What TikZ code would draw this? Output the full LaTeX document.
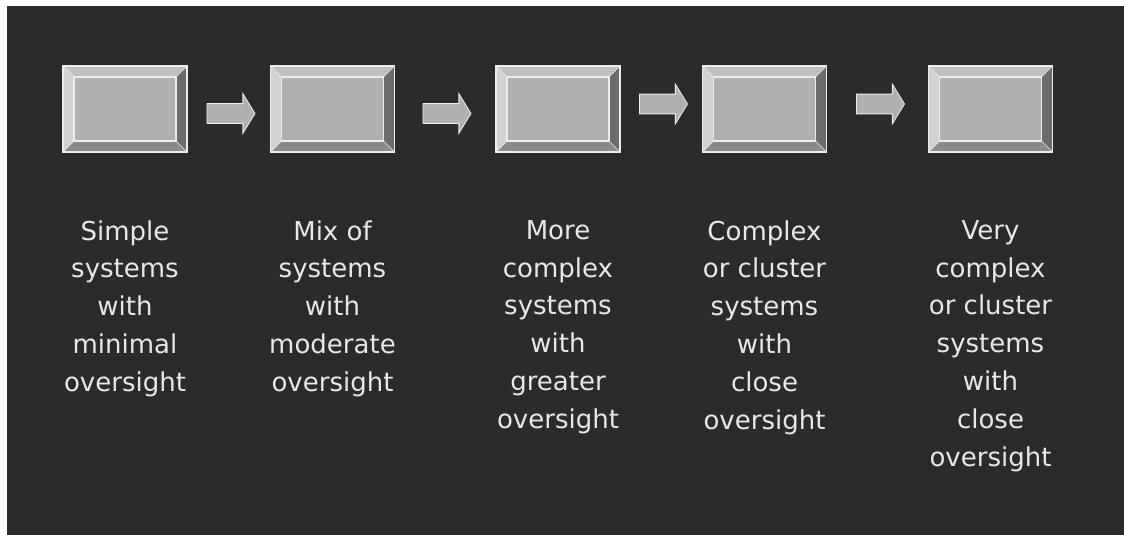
\documentclass[tikz,border=0pt]{standalone}
\usepackage{fontspec}
\setmainfont{DejaVu Sans}
\usetikzlibrary{calc,positioning,shapes.arrows}
\definecolor{bgdark}{HTML}{2B2B2B}
\definecolor{bvtop}{HTML}{C0C0C0}
\definecolor{bvleft}{HTML}{D2D2D2}
\definecolor{bvright}{HTML}{6B6B6B}
\definecolor{bvbottom}{HTML}{8A8A8A}
\definecolor{bvface}{HTML}{B0B0B0}
\definecolor{bvedge}{HTML}{EDEDED}
\definecolor{labelgray}{HTML}{E8E8E8}
\newcommand{\bw}{8.25pt}
\newcommand{\bevel}[1]{
  \fill[bvtop] (#1.north west) -- (#1.north east) -- ($(#1.north east)+(-\bw,-\bw)$) -- ($(#1.north west)+(\bw,-\bw)$) -- cycle;
  \fill[bvbottom] (#1.south west) -- (#1.south east) -- ($(#1.south east)+(-\bw,\bw)$) -- ($(#1.south west)+(\bw,\bw)$) -- cycle;
  \fill[bvleft] (#1.north west) -- (#1.south west) -- ($(#1.south west)+(\bw,\bw)$) -- ($(#1.north west)+(\bw,-\bw)$) -- cycle;
  \fill[bvright] (#1.north east) -- (#1.south east) -- ($(#1.south east)+(-\bw,\bw)$) -- ($(#1.north east)+(-\bw,-\bw)$) -- cycle;
  \draw[bvedge,line width=0.4pt] (#1.north west) -- ++(\bw,-\bw) (#1.north east) -- ++(-\bw,-\bw)
    (#1.south west) -- ++(\bw,\bw) (#1.south east) -- ++(-\bw,\bw);
  \draw[bvedge,line width=0.9pt] ($(#1.north west)+(\bw,-\bw)$) rectangle ($(#1.south east)+(-\bw,\bw)$);
  \draw[bvedge,line width=0.9pt] (#1.north west) rectangle (#1.south east);
}

\begin{document}
\begin{tikzpicture}[x=0.75pt,y=-0.75pt]
\tikzstyle{stage}=[fill=bvface,minimum width=93pt,minimum height=64.5pt,inner sep=0pt,outer sep=0pt]
\tikzstyle{step arrow}=[single arrow,fill=bvface,draw=bvedge,line width=0.6pt,inner xsep=0pt,inner ysep=7.1pt,
  single arrow head extend=7.5pt,single arrow tip angle=117,minimum height=36pt]
\tikzstyle{caption}=[text=labelgray,align=center,anchor=north,inner sep=0pt,
  font=\fontsize{19.5}{28.4}\selectfont,below=51pt of #1]
% background
\fill[white] (0,0) rectangle (1124,535);
\fill[bgdark] (7,6) rectangle (1124,535);
\useasboundingbox (0,0) rectangle (1124,535);

\node[stage] (b1) at (125,109) {};
\node[stage] (b2) at (332.5,109) {};
\node[stage] (b3) at (558,109) {};
\node[stage] (b4) at (764.5,109) {};
\node[stage] (b5) at (990.5,109) {};
\foreach \i in {1,...,5} {\bevel{b\i}}

\node[step arrow] (a12) at (228,113.5) {};
\node[step arrow] (a23) at (444,113.5) {};
\node[step arrow] (a34) at (660.5,104) {};
\node[step arrow] (a45) at (877.5,104) {};

\node[caption=b1.south] (t1) {Simple\\systems\\with\\minimal\\oversight};
\node[caption=b2.south] (t2) {Mix of\\systems\\with\\moderate\\oversight};
\node[caption=b3.south] (t3) {More\\complex\\systems\\with\\greater\\oversight};
\node[caption=b4.south] (t4) {Complex\\or cluster\\systems\\with\\close\\oversight};
\node[caption=b5.south] (t5) {Very\\complex\\or cluster\\systems\\with\\close\\oversight};
\end{tikzpicture}
\end{document}
